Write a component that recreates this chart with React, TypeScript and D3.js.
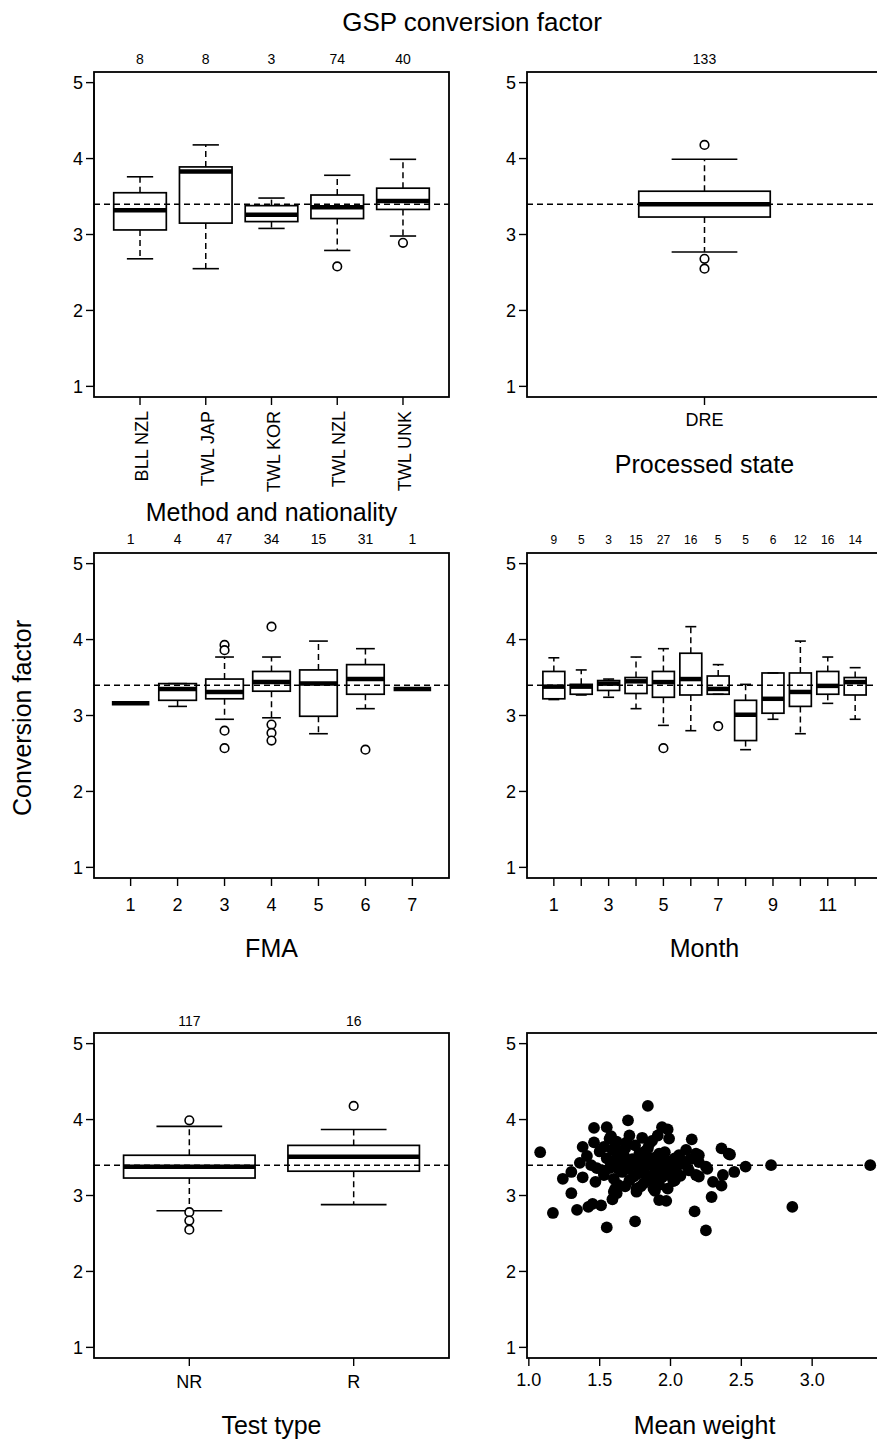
import React from "react";
import * as d3 from "d3";

// ---------- Data ----------
const refValue = 3.4;

const methodLabels = ["BLL NZL", "TWL JAP", "TWL KOR", "TWL NZL", "TWL UNK"];
const methodCounts = [8, 8, 3, 74, 40];
const methodLow = [2.68, 2.55, 3.08, 2.79, 2.98];
const methodQ1 = [3.06, 3.15, 3.17, 3.21, 3.33];
const methodMed = [3.32, 3.83, 3.26, 3.36, 3.44];
const methodQ3 = [3.55, 3.89, 3.38, 3.52, 3.61];
const methodHigh = [3.76, 4.18, 3.48, 3.78, 3.99];
const methodOut = [[], [], [], [2.58], [2.89]];

const stateLabels = ["DRE"];
const stateCounts = [133];
const stateLow = [2.77];
const stateQ1 = [3.23];
const stateMed = [3.4];
const stateQ3 = [3.57];
const stateHigh = [3.99];
const stateOut = [[4.18, 2.68, 2.55]];

const fmaLabels = ["1", "2", "3", "4", "5", "6", "7"];
const fmaCounts = [1, 4, 47, 34, 15, 31, 1];
const fmaLow = [3.16, 3.12, 2.95, 2.97, 2.76, 3.09, 3.35];
const fmaQ1 = [3.16, 3.2, 3.22, 3.32, 2.99, 3.28, 3.35];
const fmaMed = [3.16, 3.35, 3.31, 3.44, 3.42, 3.48, 3.35];
const fmaQ3 = [3.16, 3.42, 3.48, 3.58, 3.6, 3.67, 3.35];
const fmaHigh = [3.16, 3.42, 3.77, 3.77, 3.98, 3.88, 3.35];
const fmaOut = [[], [], [3.93, 3.86, 2.8, 2.57], [4.17, 2.88, 2.77, 2.67], [], [2.55], []];

const monthLabels = ["1", "", "3", "", "5", "", "7", "", "9", "", "11", ""];
const monthCounts = [9, 5, 3, 15, 27, 16, 5, 5, 6, 12, 16, 14];
const monthLow = [3.21, 3.27, 3.24, 3.09, 2.87, 2.8, 3.28, 2.55, 2.95, 2.76, 3.16, 2.95];
const monthQ1 = [3.22, 3.28, 3.33, 3.29, 3.24, 3.27, 3.28, 2.67, 3.03, 3.12, 3.28, 3.27];
const monthMed = [3.38, 3.38, 3.42, 3.45, 3.44, 3.48, 3.35, 3.01, 3.22, 3.31, 3.39, 3.44];
const monthQ3 = [3.58, 3.41, 3.46, 3.5, 3.58, 3.82, 3.52, 3.2, 3.56, 3.56, 3.58, 3.5];
const monthHigh = [3.76, 3.6, 3.48, 3.77, 3.88, 4.17, 3.67, 3.41, 3.56, 3.98, 3.77, 3.63];
const monthOut = [[], [], [], [], [2.57], [], [2.86], [], [], [], [], []];

const testLabels = ["NR", "R"];
const testCounts = [117, 16];
const testLow = [2.8, 2.88];
const testQ1 = [3.23, 3.32];
const testMed = [3.38, 3.51];
const testQ3 = [3.53, 3.66];
const testHigh = [3.91, 3.87];
const testOut = [[3.99, 2.78, 2.67, 2.55], [4.18]];

const weightX = [
  1.08, 1.17, 1.24, 1.3, 1.3, 1.34, 1.36, 1.38, 1.38, 1.41,
  1.42, 1.45, 1.46, 1.46, 1.47, 1.48, 1.51, 1.53, 1.53, 1.55,
  1.55, 1.55, 1.57, 1.57, 1.58, 1.59, 1.59, 1.6, 1.6, 1.6,
  1.61, 1.62, 1.62, 1.62, 1.63, 1.66, 1.67, 1.67, 1.68, 1.7,
  1.71, 1.71, 1.71, 1.75, 1.75, 1.76, 1.76, 1.77, 1.78, 1.78,
  1.8, 1.81, 1.83, 1.83, 1.84, 1.85, 1.85, 1.88, 1.88, 1.89,
  1.91, 1.92, 1.92, 1.92, 1.94, 1.95, 1.97, 1.97, 1.98, 1.98,
  1.99, 1.99, 2.02, 2.03, 2.03, 2.04, 2.08, 2.11, 2.13, 2.15,
  2.17, 2.18, 2.18, 2.2, 2.2, 2.2, 2.25, 2.25, 2.26, 2.29,
  2.3, 2.36, 2.36, 2.37, 2.41, 2.45, 2.53, 2.71, 2.86, 3.41,
  1.65, 1.7, 1.73, 1.74, 1.79, 1.8, 1.82, 1.86, 1.87, 1.89,
  1.9, 1.93, 1.94, 1.96, 2.0, 2.01, 2.06, 2.07, 2.1, 1.64,
  1.58, 1.52, 1.5, 1.44, 1.68, 1.79, 1.84, 2.14, 1.69, 1.87,
  1.63, 1.76, 2.42,
];
const weightCF = [
  3.57, 2.77, 3.22, 3.31, 3.03, 2.81, 3.43, 3.64, 3.24, 3.52,
  2.85, 2.89, 3.89, 3.7, 3.18, 3.36, 2.87, 3.64, 3.27, 3.9,
  3.49, 2.58, 3.75, 3.36, 3.78, 3.6, 2.95, 3.22, 3.05, 3.62,
  3.09, 3.03, 3.49, 3.71, 3.14, 3.31, 3.53, 3.39, 3.62, 3.99,
  3.79, 3.42, 3.2, 3.66, 2.66, 3.09, 3.05, 3.29, 3.55, 3.38,
  3.76, 3.16, 3.4, 3.27, 4.18, 3.68, 3.49, 3.27, 3.09, 3.06,
  3.79, 3.55, 3.14, 2.94, 3.9, 3.38, 3.46, 2.93, 3.87, 3.09,
  3.75, 3.27, 3.19, 3.49, 3.2, 3.36, 3.46, 3.6, 3.33, 3.74,
  2.79, 3.55, 3.27, 3.25, 3.44, 3.53, 3.38, 2.54, 3.35, 2.98,
  3.18, 3.62, 3.13, 3.27, 3.55, 3.31, 3.38, 3.4, 2.85, 3.4,
  3.45, 3.35, 3.48, 3.25, 3.45, 3.33, 3.58, 3.4, 3.2, 3.5,
  3.34, 3.44, 3.24, 3.57, 3.4, 3.3, 3.53, 3.26, 3.41, 3.58,
  3.42, 3.33, 3.58, 3.4, 3.12, 3.12, 3.62, 3.48, 3.7, 3.72,
  3.35, 3.4, 3.54,
];
const weightTicks = [1.0, 1.5, 2.0, 2.5, 3.0];
const yTicks = [1, 2, 3, 4, 5];

// ---------- Layout ----------
const FONT = "'Liberation Sans', Arial, Helvetica, sans-serif";
const PW = 355;
const PH = 325;
const LEFT_X = 94;
const RIGHT_X = 527;
const ROW_Y = [72, 553, 1033];
const Y_DOMAIN = [0.86, 5.14];
const DASH = "6,4";

type BoxProps = {
  x0: number;
  y0: number;
  labels: string[];
  counts: number[];
  low: number[];
  q1: number[];
  med: number[];
  q3: number[];
  high: number[];
  out: number[][];
  boxwex: number;
  countSize: number;
  rotateLabels?: boolean;
  xTitle: string;
  xTitleY: number;
  tickLabelY: number;
  countY: number;
};

function YAxis({ x0, y }: { x0: number; y: d3.ScaleLinear<number, number> }) {
  return (
    <g>
      <line x1={x0} x2={x0} y1={y(1)} y2={y(5)} stroke="#000" strokeWidth={1.4} />
      {yTicks.map((t) => (
        <g key={t}>
          <line x1={x0 - 8} x2={x0} y1={y(t)} y2={y(t)} stroke="#000" strokeWidth={1.4} />
          <text
            x={x0 - 11}
            y={y(t)}
            dy="0.36em"
            textAnchor="end"
            fontSize={18}
            fontFamily={FONT}
          >
            {t}
          </text>
        </g>
      ))}
    </g>
  );
}

function BoxPanel(p: BoxProps) {
  const n = p.labels.length;
  const ext = 0.04 * n;
  const x = d3.scaleLinear().domain([0.5 - ext, n + 0.5 + ext]).range([p.x0, p.x0 + PW]);
  const y = d3.scaleLinear().domain(Y_DOMAIN).range([p.y0 + PH, p.y0]);
  const hw = (x(1 + p.boxwex / 2) - x(1)) as number;
  const idx = d3.range(n);
  return (
    <g>
      {idx.map((i) => {
        const cx = x(i + 1);
        return (
          <g key={i}>
            <line x1={cx} x2={cx} y1={y(p.q3[i])} y2={y(p.high[i])} stroke="#000" strokeWidth={1.5} strokeDasharray={DASH} />
            <line x1={cx} x2={cx} y1={y(p.q1[i])} y2={y(p.low[i])} stroke="#000" strokeWidth={1.5} strokeDasharray={DASH} />
            <line x1={cx - hw / 2} x2={cx + hw / 2} y1={y(p.high[i])} y2={y(p.high[i])} stroke="#000" strokeWidth={1.6} />
            <line x1={cx - hw / 2} x2={cx + hw / 2} y1={y(p.low[i])} y2={y(p.low[i])} stroke="#000" strokeWidth={1.6} />
            <rect
              x={cx - hw}
              y={y(p.q3[i])}
              width={hw * 2}
              height={Math.max(0, y(p.q1[i]) - y(p.q3[i]))}
              fill="none"
              stroke="#000"
              strokeWidth={1.7}
            />
            <line x1={cx - hw} x2={cx + hw} y1={y(p.med[i])} y2={y(p.med[i])} stroke="#000" strokeWidth={4.5} />
            {p.out[i].map((o, j) => (
              <circle key={j} cx={cx} cy={y(o)} r={4.3} fill="#fff" stroke="#000" strokeWidth={1.6} />
            ))}
            <text x={cx} y={p.countY} textAnchor="middle" fontSize={p.countSize} fontFamily={FONT}>
              {p.counts[i]}
            </text>
            <line x1={cx} x2={cx} y1={p.y0 + PH} y2={p.y0 + PH + 8} stroke="#000" strokeWidth={1.4} />
            {p.rotateLabels ? (
              <text
                transform={`translate(${cx + 8},${p.y0 + PH + 14}) rotate(-90)`}
                textAnchor="end"
                fontSize={18}
                fontFamily={FONT}
              >
                {p.labels[i]}
              </text>
            ) : (
              <text x={cx} y={p.tickLabelY} textAnchor="middle" fontSize={18} fontFamily={FONT}>
                {p.labels[i]}
              </text>
            )}
          </g>
        );
      })}
      <line
        x1={p.x0}
        x2={p.x0 + PW}
        y1={y(refValue)}
        y2={y(refValue)}
        stroke="#000"
        strokeWidth={1.5}
        strokeDasharray={DASH}
      />
      <rect x={p.x0} y={p.y0} width={PW} height={PH} fill="none" stroke="#000" strokeWidth={1.8} />
      <YAxis x0={p.x0} y={y} />
      <text x={p.x0 + PW / 2} y={p.xTitleY} textAnchor="middle" fontSize={25} fontFamily={FONT}>
        {p.xTitle}
      </text>
    </g>
  );
}

function ScatterPanel({ x0, y0 }: { x0: number; y0: number }) {
  const x = d3.scaleLinear().domain([0.987, 3.493]).range([x0, x0 + PW]);
  const y = d3.scaleLinear().domain(Y_DOMAIN).range([y0 + PH, y0]);
  return (
    <g>
      {weightX.map((wx, i) => (
        <circle key={i} cx={x(wx)} cy={y(weightCF[i])} r={5.9} fill="#000" />
      ))}
      <line
        x1={x0}
        x2={x0 + PW}
        y1={y(refValue)}
        y2={y(refValue)}
        stroke="#000"
        strokeWidth={1.5}
        strokeDasharray={DASH}
      />
      <rect x={x0} y={y0} width={PW} height={PH} fill="none" stroke="#000" strokeWidth={1.8} />
      <YAxis x0={x0} y={y} />
      {weightTicks.map((t) => (
        <g key={t}>
          <line x1={x(t)} x2={x(t)} y1={y0 + PH} y2={y0 + PH + 8} stroke="#000" strokeWidth={1.4} />
          <text x={x(t)} y={y0 + PH + 28} textAnchor="middle" fontSize={18} fontFamily={FONT}>
            {d3.format(".1f")(t)}
          </text>
        </g>
      ))}
      <text x={x0 + PW / 2} y={1434} textAnchor="middle" fontSize={25} fontFamily={FONT}>
        Mean weight
      </text>
    </g>
  );
}

export default function App() {
  return (
    <svg
      width={877}
      height={1443}
      style={{ position: "absolute", left: 0, top: 0, background: "#fff" }}
    >
      <rect x={0} y={0} width={877} height={1443} fill="#fff" />
      <text x={472} y={31} textAnchor="middle" fontSize={26} fontFamily={FONT}>
        GSP conversion factor
      </text>
      <text
        transform="translate(31,718) rotate(-90)"
        textAnchor="middle"
        fontSize={25}
        fontFamily={FONT}
      >
        Conversion factor
      </text>

      <BoxPanel
        x0={LEFT_X} y0={ROW_Y[0]}
        labels={methodLabels} counts={methodCounts}
        low={methodLow} q1={methodQ1} med={methodMed} q3={methodQ3} high={methodHigh} out={methodOut}
        boxwex={0.8} countSize={14} rotateLabels
        xTitle="Method and nationality" xTitleY={521} tickLabelY={0} countY={64}
      />
      <BoxPanel
        x0={RIGHT_X} y0={ROW_Y[0]}
        labels={stateLabels} counts={stateCounts}
        low={stateLow} q1={stateQ1} med={stateMed} q3={stateQ3} high={stateHigh} out={stateOut}
        boxwex={0.4} countSize={14}
        xTitle="Processed state" xTitleY={473} tickLabelY={426} countY={64}
      />
      <BoxPanel
        x0={LEFT_X} y0={ROW_Y[1]}
        labels={fmaLabels} counts={fmaCounts}
        low={fmaLow} q1={fmaQ1} med={fmaMed} q3={fmaQ3} high={fmaHigh} out={fmaOut}
        boxwex={0.8} countSize={14}
        xTitle="FMA" xTitleY={957} tickLabelY={911} countY={544}
      />
      <BoxPanel
        x0={RIGHT_X} y0={ROW_Y[1]}
        labels={monthLabels} counts={monthCounts}
        low={monthLow} q1={monthQ1} med={monthMed} q3={monthQ3} high={monthHigh} out={monthOut}
        boxwex={0.8} countSize={12}
        xTitle="Month" xTitleY={957} tickLabelY={911} countY={544}
      />
      <BoxPanel
        x0={LEFT_X} y0={ROW_Y[2]}
        labels={testLabels} counts={testCounts}
        low={testLow} q1={testQ1} med={testMed} q3={testQ3} high={testHigh} out={testOut}
        boxwex={0.8} countSize={14}
        xTitle="Test type" xTitleY={1434} tickLabelY={1388} countY={1026}
      />
      <ScatterPanel x0={RIGHT_X} y0={ROW_Y[2]} />
    </svg>
  );
}
